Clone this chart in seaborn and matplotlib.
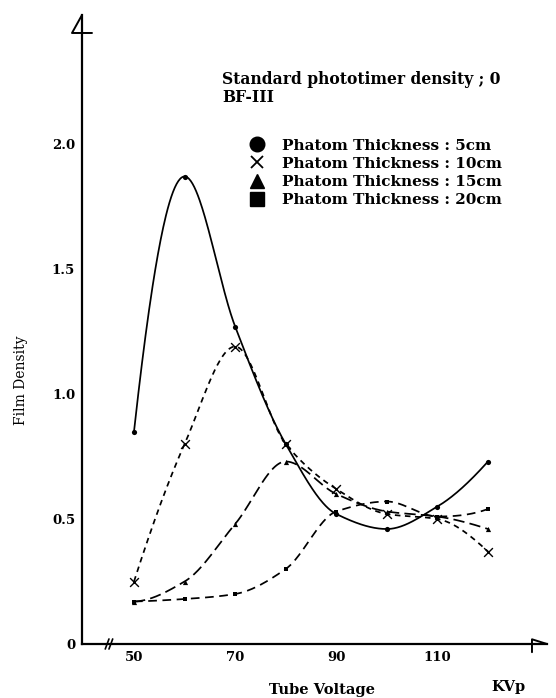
import numpy as np
import pandas as pd
import matplotlib
matplotlib.use("Agg")
import matplotlib.pyplot as plt
from matplotlib.lines import Line2D
import seaborn as sns

# ---- data ----
kvp = [50, 60, 70, 80, 90, 100, 110, 120]
density_5cm = [0.85, 1.87, 1.27, 0.80, 0.52, 0.46, 0.55, 0.73]
density_10cm = [0.25, 0.80, 1.19, 0.80, 0.62, 0.52, 0.50, 0.37]
density_15cm = [0.17, 0.25, 0.48, 0.73, 0.60, 0.53, 0.51, 0.46]
density_20cm = [0.17, 0.18, 0.20, 0.30, 0.53, 0.57, 0.51, 0.54]
series_labels = ["Phatom Thickness : 5cm", "Phatom Thickness : 10cm",
                 "Phatom Thickness : 15cm", "Phatom Thickness : 20cm"]
xtick_values = [50, 60, 70, 80, 90, 100, 110, 120]
xtick_labels = ["50", "", "70", "", "90", "", "110", ""]
ytick_values = [0, 0.5, 1.0, 1.5, 2.0]
ytick_labels = ["0", "0.5", "1.0", "1.5", "2.0"]


def pchip_curve(x, y, n=400):
    """Shape-preserving cubic through the read points (drawing only)."""
    x = np.asarray(x, float); y = np.asarray(y, float)
    h = np.diff(x); d = np.diff(y) / h
    m = np.zeros_like(y)
    for k in range(1, len(x) - 1):
        if d[k - 1] * d[k] <= 0:
            m[k] = 0.0
        else:
            w1 = 2 * h[k] + h[k - 1]; w2 = h[k] + 2 * h[k - 1]
            m[k] = (w1 + w2) / (w1 / d[k - 1] + w2 / d[k])

    def end(h0, h1, d0, d1):
        mm = ((2 * h0 + h1) * d0 - h0 * d1) / (h0 + h1)
        if np.sign(mm) != np.sign(d0):
            return 0.0
        if np.sign(d0) != np.sign(d1) and abs(mm) > 3 * abs(d0):
            return 3 * d0
        return mm
    m[0] = end(h[0], h[1], d[0], d[1])
    m[-1] = end(h[-1], h[-2], d[-1], d[-2])
    xs = np.linspace(x[0], x[-1], n)
    idx = np.clip(np.searchsorted(x, xs) - 1, 0, len(x) - 2)
    t = (xs - x[idx]) / h[idx]
    h00 = 2 * t**3 - 3 * t**2 + 1; h10 = t**3 - 2 * t**2 + t
    h01 = -2 * t**3 + 3 * t**2; h11 = t**3 - t**2
    ys = h00 * y[idx] + h10 * h[idx] * m[idx] + h01 * y[idx + 1] + h11 * h[idx] * m[idx + 1]
    return xs, ys


sns.set_style("white")
plt.rcParams["font.family"] = ["DejaVu Serif"]
plt.rcParams["font.weight"] = "bold"
plt.rcParams["axes.labelweight"] = "bold"
for key in ["text.color", "axes.labelcolor", "xtick.color", "ytick.color",
            "axes.edgecolor"]:
    plt.rcParams[key] = "black"

W, H = 556, 698
fig = plt.figure(figsize=(W / 100, H / 100), dpi=100)
L, R, T, B = 82, 547, 15, 644
ax = fig.add_axes([L / W, 1 - B / H, (R - L) / W, (B - T) / H])

series = [
    (density_5cm, "-", "o", 14),
    (density_10cm, (0, (3.2, 2.6)), "x", 40),
    (density_15cm, (0, (6.5, 3.0)), "^", 14),
    (density_20cm, (0, (5.0, 3.2)), "s", 10),
]
for vals, ls, mk, sz in series:
    xs, ys = pchip_curve(kvp, vals)
    sns.lineplot(x=xs, y=ys, ax=ax, color="black", linewidth=1.25,
                 linestyle=ls, estimator=None, sort=False)
    sns.scatterplot(x=kvp, y=vals, ax=ax, marker=mk, s=sz, color="black",
                    linewidth=1.0 if mk == "x" else 0, zorder=5)

ax.set_xlim(50 - (134 - L) / 5.057, 50 + (R - 134) / 5.057)
ax.set_ylim(0, (B - T) / 250)

for s in ["top", "right"]:
    ax.spines[s].set_visible(False)
for s in ["left", "bottom"]:
    ax.spines[s].set_linewidth(1.6)
    ax.spines[s].set_color("black")

ax.set_xticks(xtick_values)
ax.set_xticklabels(xtick_labels)
ax.set_yticks(ytick_values)
ax.set_yticklabels(ytick_labels)
ax.tick_params(axis="x", direction="in", length=6, width=1.4, pad=5,
               labelsize=9.5, colors="black")
ax.tick_params(axis="y", direction="in", length=8, width=1.4, pad=5,
               labelsize=9.5, colors="black")
ax.yaxis.get_major_ticks()[0].tick1line.set_visible(False)

# axis decorations (hand-drawn arrow heads and break mark)
ax.plot([0, -0.0215, 0.0215], [1.0, 0.9714, 0.9714], transform=ax.transAxes,
        color="black", lw=1.4, clip_on=False)
ax.plot([0.9677, 0.9677, 1.0], [-0.013, 0.0075, 0.0], transform=ax.transAxes,
        color="black", lw=1.4, clip_on=False)
for dx in (0.054, 0.062):
    ax.plot([dx - 0.004, dx + 0.004], [-0.008, 0.008], transform=ax.transAxes,
            color="black", lw=1.2, clip_on=False)

ax.set_ylabel("Film Density", fontsize=10, fontweight="normal", color="black")
ax.yaxis.set_label_coords((28 - L) / (R - L), (B - 380) / (B - T))
ax.set_xlabel("Tube Voltage", fontsize=10.5, fontweight="bold", color="black")
ax.xaxis.set_label_coords((322 - L) / (R - L), (B - 683) / (B - T))
ax.text((508 - L) / (R - L), (B - 687) / (B - T), "KVp", transform=ax.transAxes,
        ha="center", va="center", fontsize=10.5, color="black")

ax.text((222 - L) / (R - L), (B - 80) / (B - T), "Standard phototimer density ; 0",
        transform=ax.transAxes, ha="left", va="center", fontsize=11.2, color="black")
ax.text((222 - L) / (R - L), (B - 97) / (B - T), "BF-III",
        transform=ax.transAxes, ha="left", va="center", fontsize=11.2, color="black")

handles = [Line2D([], [], ls="", marker="o", color="black", markersize=10.5),
           Line2D([], [], ls="", marker="x", color="black", markersize=8, mew=1.3),
           Line2D([], [], ls="", marker="^", color="black", markersize=9.5),
           Line2D([], [], ls="", marker="s", color="black", markersize=9.5)]
leg = ax.legend(handles, series_labels, loc="upper left",
                bbox_to_anchor=((249.5 - L) / (R - L), (B - 138.5) / (B - T)),
                frameon=False, borderpad=0, borderaxespad=0, handlelength=1.0,
                handletextpad=1.1, labelspacing=0.28,
                prop={"family": "DejaVu Serif", "weight": "bold", "size": 11})
for t in leg.get_texts():
    t.set_color("black")

fig.savefig("out.png", dpi=100, facecolor="white")
